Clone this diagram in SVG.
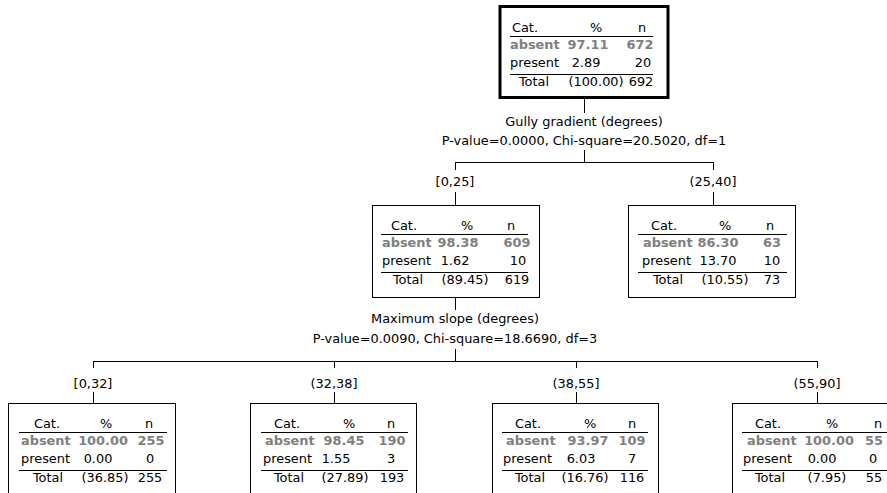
<svg xmlns="http://www.w3.org/2000/svg" width="887" height="493" viewBox="0 0 887 493">
<style>
text{font-family:"DejaVu Sans","Liberation Sans",sans-serif;font-size:12.9px;fill:#000}
.m{text-anchor:middle}
.b{font-weight:bold;fill:#7f7f7f}
.box{fill:#fff;stroke:#000;stroke-width:1}
.root{fill:#fff;stroke:#000;stroke-width:3}
.ln{stroke:#000;stroke-width:1;fill:none}
</style>
<rect width="887" height="493" fill="#fff"/>
<g id="connectors">
<path class="ln" d="M584.5 99V113M584.5 150V162.5M455 162.5H714M455.5 162V170M713.5 162V170M455.5 192V205M713.5 192V205M455.5 297V310M455.5 349V361.5M93 361.5H818M93.5 361V368M334.5 361V368M576.5 361V368M817.5 361V368M93.5 392V403M334.5 392V403M576.5 392V403M817.5 392V403"/>
<text class="m" x="584" y="126">Gully gradient (degrees)</text>
<text class="m" x="584" y="145">P-value=0.0000, Chi-square=20.5020, df=1</text>
<text class="m" x="455" y="186">[0,25]</text>
<text class="m" x="713" y="186">(25,40]</text>
<text class="m" x="455" y="323">Maximum slope (degrees)</text>
<text class="m" x="455" y="343">P-value=0.0090, Chi-square=18.6690, df=3</text>
<text class="m" x="93" y="388">[0,32]</text>
<text class="m" x="334" y="388">(32,38]</text>
<text class="m" x="576" y="388">(38,55]</text>
<text class="m" x="817" y="388">(55,90]</text>
</g>
<g id="node0">
<rect class="root" x="500" y="6.5" width="168" height="91"/>
<path class="ln" d="M510 36.5H653M510 74.5H653"/>
<text class="m" x="525" y="32">Cat.</text><text class="m" x="596" y="32">%</text><text class="m" x="642" y="32">n</text>
<text class="b" x="510" y="49">absent</text><text class="m b" x="588" y="49">97.11</text><text class="m b" x="640" y="49">672</text>
<text x="510" y="67">present</text><text class="m" x="586" y="67">2.89</text><text class="m" x="643" y="67">20</text>
<text class="m" x="534" y="86">Total</text><text class="m" x="596" y="86">(100.00)</text><text class="m" x="641" y="86">692</text>
</g>
<g id="node1">
<rect class="box" x="372.5" y="205.5" width="167" height="92"/>
<path class="ln" d="M381 234.5H528M381 272.5H528"/>
<text class="m" x="404" y="230">Cat.</text><text class="m" x="467" y="230">%</text><text class="m" x="511" y="230">n</text>
<text class="b" x="382" y="247">absent</text><text class="m b" x="458" y="247">98.38</text><text class="m b" x="517" y="247">609</text>
<text x="382" y="265">present</text><text class="m" x="455" y="265">1.62</text><text class="m" x="518" y="265">10</text>
<text class="m" x="408" y="284">Total</text><text class="m" x="465" y="284">(89.45)</text><text class="m" x="517" y="284">619</text>
</g>
<g id="node2">
<rect class="box" x="628.5" y="205.5" width="167" height="92"/>
<path class="ln" d="M638 234.5H787M638 272.5H787"/>
<text class="m" x="664" y="230">Cat.</text><text class="m" x="725" y="230">%</text><text class="m" x="770" y="230">n</text>
<text class="b" x="643" y="247">absent</text><text class="m b" x="718" y="247">86.30</text><text class="m b" x="772" y="247">63</text>
<text x="642" y="265">present</text><text class="m" x="718" y="265">13.70</text><text class="m" x="772" y="265">10</text>
<text class="m" x="668" y="284">Total</text><text class="m" x="725" y="284">(10.55)</text><text class="m" x="772" y="284">73</text>
</g>
<g id="node3">
<rect class="box" x="8.5" y="403.5" width="167" height="100"/>
<path class="ln" d="M19 432.5H167M19 470.5H167"/>
<text class="m" x="47" y="428">Cat.</text><text class="m" x="106" y="428">%</text><text class="m" x="149" y="428">n</text>
<text class="b" x="21" y="445">absent</text><text class="m b" x="103" y="445">100.00</text><text class="m b" x="151" y="445">255</text>
<text x="21" y="463">present</text><text class="m" x="98" y="463">0.00</text><text class="m" x="150" y="463">0</text>
<text class="m" x="48" y="482">Total</text><text class="m" x="105" y="482">(36.85)</text><text class="m" x="150" y="482">255</text>
</g>
<g id="node4">
<rect class="box" x="250.5" y="403.5" width="166" height="100"/>
<path class="ln" d="M261 432.5H408M261 470.5H408"/>
<text class="m" x="287" y="428">Cat.</text><text class="m" x="349" y="428">%</text><text class="m" x="391" y="428">n</text>
<text class="b" x="265" y="445">absent</text><text class="m b" x="344" y="445">98.45</text><text class="m b" x="392" y="445">190</text>
<text x="263" y="463">present</text><text class="m" x="336" y="463">1.55</text><text class="m" x="391" y="463">3</text>
<text class="m" x="289" y="482">Total</text><text class="m" x="345" y="482">(27.89)</text><text class="m" x="392" y="482">193</text>
</g>
<g id="node5">
<rect class="box" x="492.5" y="403.5" width="166" height="100"/>
<path class="ln" d="M502 432.5H648M502 470.5H648"/>
<text class="m" x="528" y="428">Cat.</text><text class="m" x="590" y="428">%</text><text class="m" x="632" y="428">n</text>
<text class="b" x="506" y="445">absent</text><text class="m b" x="588" y="445">93.97</text><text class="m b" x="632" y="445">109</text>
<text x="503" y="463">present</text><text class="m" x="581" y="463">6.03</text><text class="m" x="632" y="463">7</text>
<text class="m" x="530" y="482">Total</text><text class="m" x="585" y="482">(16.76)</text><text class="m" x="632" y="482">116</text>
</g>
<g id="node6">
<rect class="box" x="732.5" y="403.5" width="170" height="100"/>
<path class="ln" d="M742 432.5H890M742 470.5H890"/>
<text class="m" x="768" y="428">Cat.</text><text class="m" x="832" y="428">%</text><text class="m" x="878" y="428">n</text>
<text class="b" x="747" y="445">absent</text><text class="m b" x="829" y="445">100.00</text><text class="m b" x="874" y="445">55</text>
<text x="743" y="463">present</text><text class="m" x="822" y="463">0.00</text><text class="m" x="873" y="463">0</text>
<text class="m" x="770" y="482">Total</text><text class="m" x="827" y="482">(7.95)</text><text class="m" x="874" y="482">55</text>
</g>
</svg>
